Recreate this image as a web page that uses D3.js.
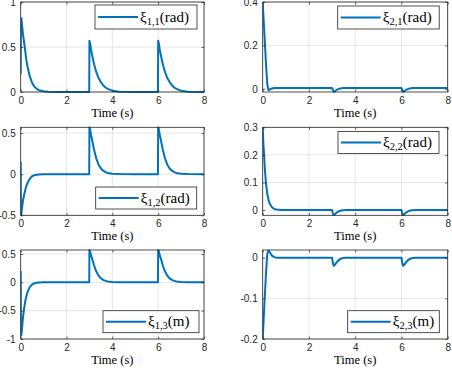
<!DOCTYPE html>
<html><head><meta charset="utf-8">
<script src="https://cdn.jsdelivr.net/npm/d3@7"></script>
<style>body{margin:0;background:#fff}svg{display:block}</style>
</head><body><svg id="c" width="452" height="368"></svg>
<script>
// ---- data ----
const time = [0,0.01,0.03,0.06,0.1,0.15,0.2,0.25,0.3,0.4,0.5,0.6,0.7,0.8,1.0,1.2,1.5,2.0,2.5,2.99,
  3.0,3.03,3.07,3.1,3.15,3.2,3.3,3.4,3.5,3.6,3.7,3.8,4.0,4.3,5.0,5.99,
  6.0,6.03,6.07,6.1,6.15,6.2,6.3,6.4,6.5,6.6,6.7,6.8,7.0,7.3,8.0];
const xi11 = [0.2,0.75,0.82,0.74,0.64,0.55,0.45,0.35,0.28,0.17,0.10,0.06,0.035,0.02,0.008,0.003,0.001,0,0,0,
  0.57,0.54,0.47,0.43,0.37,0.31,0.22,0.155,0.11,0.075,0.05,0.035,0.015,0.004,0,0,
  0.57,0.54,0.47,0.43,0.37,0.31,0.22,0.155,0.11,0.075,0.05,0.035,0.015,0.004,0];
const xi12 = [0.15,-0.5,-0.48,-0.40,-0.32,-0.25,-0.19,-0.14,-0.105,-0.055,-0.025,-0.012,-0.006,-0.003,-0.001,0,0,0,0,0,
  0.57,0.54,0.48,0.44,0.37,0.30,0.19,0.115,0.07,0.042,0.025,0.015,0.005,0.001,0,0,
  0.57,0.54,0.48,0.44,0.37,0.30,0.19,0.115,0.07,0.042,0.025,0.015,0.005,0.001,0];
const xi13 = [0.2,-0.85,-0.93,-0.80,-0.62,-0.46,-0.33,-0.24,-0.17,-0.08,-0.04,-0.015,-0.008,-0.004,-0.001,0,0,0,0,0,
  0.57,0.54,0.48,0.44,0.37,0.30,0.19,0.115,0.07,0.042,0.025,0.015,0.005,0.001,0,0,
  0.57,0.54,0.48,0.44,0.37,0.30,0.19,0.115,0.07,0.042,0.025,0.015,0.005,0.001,0];
const xi21 = [0.4,0.38,0.34,0.28,0.2,0.1,0.02,-0.006,-0.004,0.002,0.004,0.004,0.004,0.004,0.004,0.004,0.004,0.004,0.004,0.004,
  0.004,-0.004,-0.012,-0.013,-0.009,-0.005,0.0,0.003,0.004,0.004,0.004,0.004,0.004,0.004,0.004,0.004,
  0.004,-0.004,-0.012,-0.013,-0.009,-0.005,0.0,0.003,0.004,0.004,0.004,0.004,0.004,0.004,0.004];
const xi22 = [0.3,0.28,0.24,0.2,0.14,0.09,0.058,0.037,0.024,0.01,0.004,0.002,0.001,0,0,0,0,0,0,0,
  0,-0.01,-0.018,-0.017,-0.013,-0.009,-0.004,-0.0015,-0.0005,0,0,0,0,0,0,0,
  0,-0.01,-0.018,-0.017,-0.013,-0.009,-0.004,-0.0015,-0.0005,0,0,0,0,0,0];
const xi23 = [-0.2,-0.19,-0.165,-0.13,-0.085,-0.03,0.01,0.018,0.014,0.005,0.0015,0,0,0,0,0,0,0,0,0,
  0,-0.012,-0.02,-0.019,-0.015,-0.011,-0.005,-0.002,-0.0005,0,0,0,0,0,0,0,
  0,-0.012,-0.02,-0.019,-0.015,-0.011,-0.005,-0.002,-0.0005,0,0,0,0,0,0];
const xTicks = [0,2,4,6,8];
const yTicks11 = [0,0.5,1];
const yTicks12 = [-0.5,0,0.5];
const yTicks13 = [-1,-0.5,0,0.5];
const yTicks21 = [0,0.2,0.4];
const yTicks22 = [0,0.1,0.2,0.3];
const yTicks23 = [-0.2,-0.1,0];
const subs = ["1,1","1,2","1,3","2,1","2,2","2,3"];
const units = ["rad","rad","m","rad","rad","m"];
const xLabel = "Time (s)";

// ---- layout ----
const L = [20.7,204], R = [262.7,447.7];
const rows = [[2,92],[127.3,215.3],[250,339]];
const panels = [
  {v:xi11, s:0, dom:[0,1], t:yTicks11, xr:L, yr:rows[0], leg:[95,5,102,24]},
  {v:xi12, s:1, dom:[-0.5,0.57], t:yTicks12, xr:L, yr:rows[1], leg:[95.7,187,101,22]},
  {v:xi13, s:2, dom:[-1,0.57], t:yTicks13, xr:L, yr:rows[2], leg:[103,310.7,96,22]},
  {v:xi21, s:3, dom:[-0.0145,0.4], t:yTicks21, xr:R, yr:rows[0], leg:[337.7,6,101.5,23]},
  {v:xi22, s:4, dom:[-0.019,0.3], t:yTicks22, xr:R, yr:rows[1], leg:[338,131.5,101,22]},
  {v:xi23, s:5, dom:[-0.2,0.019], t:yTicks23, xr:R, yr:rows[2], leg:[347.7,310.7,91.6,22]},
];
const AX = "#262626", GRID = "#dfdfdf", BLUE = "#0072BD";
const svg = d3.select("#c");
const sans = "'Liberation Sans', Arial, sans-serif";
const serif = "'Liberation Serif', 'Times New Roman', serif";

panels.forEach((p,i) => {
  const x = d3.scaleLinear().domain([0,8]).range(p.xr);
  const y = d3.scaleLinear().domain(p.dom).range([p.yr[1], p.yr[0]]);
  const g = svg.append("g");
  const [x0,x1] = p.xr, [y0,y1] = p.yr;
  const clipId = "clip"+i;
  svg.append("clipPath").attr("id",clipId).append("rect")
    .attr("x",x0).attr("y",y0-1).attr("width",x1-x0).attr("height",y1-y0+2);
  // grid
  g.selectAll(".gx").data(xTicks).join("line")
    .attr("x1",d=>x(d)).attr("x2",d=>x(d)).attr("y1",y0).attr("y2",y1)
    .attr("stroke",GRID).attr("stroke-width",0.8);
  g.selectAll(".gy").data(p.t).join("line").attr("class","gy")
    .attr("x1",x0).attr("x2",x1).attr("y1",d=>y(d)).attr("y2",d=>y(d))
    .attr("stroke",GRID).attr("stroke-width",0.8);
  // line
  const line = d3.line().x((d,j)=>x(time[j])).y(d=>y(d));
  g.append("path").datum(p.v).attr("d",line).attr("fill","none")
    .attr("stroke",BLUE).attr("stroke-width",2).attr("stroke-linejoin","round")
    .attr("clip-path",`url(#${clipId})`);
  // axes (box with inward ticks)
  const tl = 2.5;
  const bottom = d3.axisBottom(x).tickValues(xTicks).tickSizeInner(-tl).tickSizeOuter(0).tickPadding(5).tickFormat(d3.format("d"));
  const top = d3.axisTop(x).tickValues(xTicks).tickSizeInner(-tl).tickSizeOuter(0).tickFormat("");
  const left = d3.axisLeft(y).tickValues(p.t).tickSizeInner(-tl).tickSizeOuter(0).tickPadding(5).tickFormat(d=>String(d));
  const right = d3.axisRight(y).tickValues(p.t).tickSizeInner(-tl).tickSizeOuter(0).tickFormat("");
  const style = a => { a.selectAll("path").remove(); a.selectAll("line").attr("stroke",AX).attr("stroke-width",0.7);
    a.selectAll("text").attr("fill",AX).attr("font-family",sans).attr("font-size",10); };
  g.append("g").attr("transform",`translate(0,${y1})`).call(bottom).call(style);
  g.append("g").attr("transform",`translate(0,${y0})`).call(top).call(style);
  g.append("g").attr("transform",`translate(${x0},0)`).call(left).call(style);
  g.append("g").attr("transform",`translate(${x1},0)`).call(right).call(style);
  g.append("rect").attr("x",x0).attr("y",y0).attr("width",x1-x0).attr("height",y1-y0)
    .attr("fill","none").attr("stroke",AX).attr("stroke-width",0.8);
  // x label
  g.append("text").attr("x",(x0+x1)/2).attr("y",y1+25).attr("text-anchor","middle")
    .attr("font-family",serif).attr("font-size",12.5).attr("fill","#000").text(xLabel);
  // legend
  const [lx,ly,lw,lh] = p.leg;
  const lg = g.append("g");
  lg.append("rect").attr("x",lx).attr("y",ly).attr("width",lw).attr("height",lh)
    .attr("fill","#fff").attr("stroke",AX).attr("stroke-width",0.8);
  lg.append("line").attr("x1",lx+3).attr("x2",lx+43).attr("y1",ly+lh/2).attr("y2",ly+lh/2)
    .attr("stroke",BLUE).attr("stroke-width",2);
  const tx = lg.append("text").attr("x",lx+45).attr("y",ly+lh/2+4.5)
    .attr("font-family",serif).attr("font-size",15).attr("fill","#000");
  tx.append("tspan").text("ξ");
  tx.append("tspan").attr("font-size",10.5).attr("dy",3).text(subs[p.s]);
  tx.append("tspan").attr("dy",-3).text("(" + units[p.s] + ")");
});
</script></body></html>
